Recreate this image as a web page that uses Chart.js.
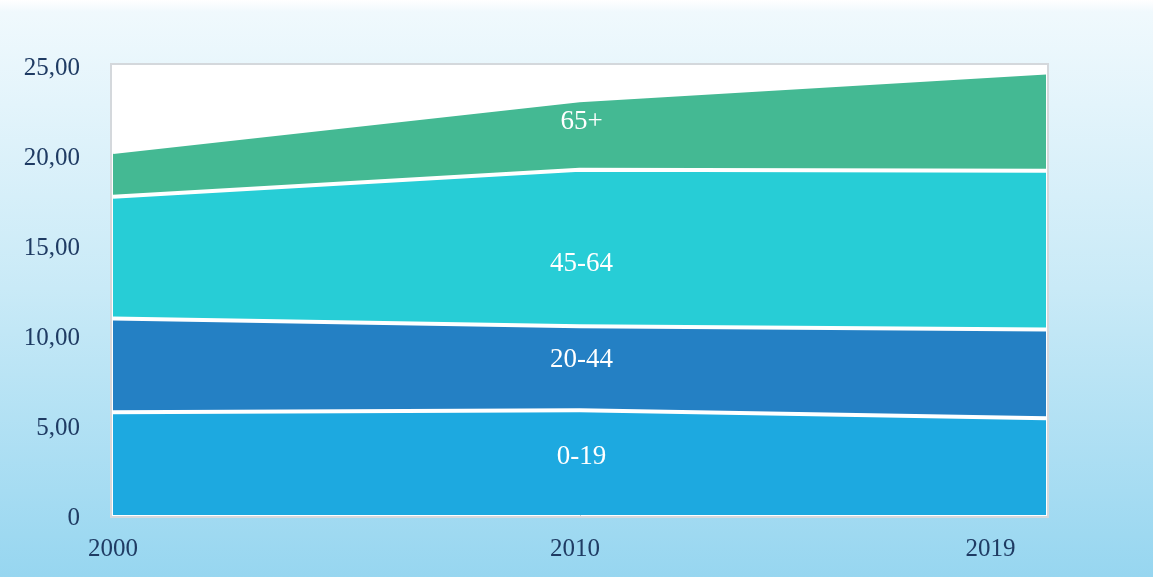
<!DOCTYPE html>
<html>
<head>
<meta charset="utf-8">
<script src="https://cdn.jsdelivr.net/npm/chart.js@4/dist/chart.umd.min.js"></script>
<style>
  html, body { margin: 0; padding: 0; }
  body { width: 1153px; height: 577px; overflow: hidden;
         background: linear-gradient(to bottom, #ffffff 0px, #f0f9fd 12px, #c9eaf7 50%, #97d6f0 100%); }
  #wrap { position: relative; width: 1153px; height: 577px; }
</style>
</head>
<body>
<div id="wrap"><canvas id="c" width="1153" height="577"></canvas></div>
<script>
const categories = ['2000', '2010', '2019'];
const xTickYears = [2000, 2010, 2019];
const seriesNames = ['0-19', '20-44', '45-64', '65+'];
const age0_19  = [5.71, 5.82, 5.38];
const age20_44 = [5.21, 4.66, 4.93];
const age45_64 = [6.76, 8.70, 8.81];
const age65    = [2.49, 3.86, 5.47];
const yTicks = [0, 5, 10, 15, 20, 25];

const colors = ['#1da9e0', '#2480c4', '#27cdd6', '#44b993'];
const seriesValues = [age0_19, age20_44, age45_64, age65];

const plotFrame = {
  id: 'plotFrame',
  beforeDraw(chart) {
    const { ctx, chartArea: a } = chart;
    ctx.save();
    ctx.fillStyle = '#ffffff';
    ctx.fillRect(a.left - 2, a.top - 1, a.right - a.left + 4, a.bottom - a.top + 3);
    ctx.strokeStyle = '#d4d8dc';
    ctx.lineWidth = 2;
    ctx.strokeRect(a.left - 2, a.top - 1, a.right - a.left + 4, a.bottom - a.top + 3);
    const x = chart.scales.x.getPixelForValue(1);
    ctx.strokeStyle = '#c8ccd0';
    ctx.lineWidth = 1;
    ctx.beginPath();
    ctx.moveTo(Math.round(x) + 0.5, a.bottom - 6);
    ctx.lineTo(Math.round(x) + 0.5, a.bottom + 1);
    ctx.stroke();
    ctx.restore();
  }
};

const areaLabels = {
  id: 'areaLabels',
  afterDatasetsDraw(chart, args, opts) {
    const { ctx } = chart;
    const idx = 1;
    ctx.save();
    ctx.fillStyle = '#ffffff';
    ctx.font = '27px "Liberation Serif", serif';
    ctx.textAlign = 'center';
    ctx.textBaseline = 'middle';
    let prevY = chart.scales.y.getPixelForValue(0);
    chart.data.datasets.forEach((ds, i) => {
      const pt = chart.getDatasetMeta(i).data[idx];
      const mid = (pt.y + prevY) / 2 + (opts.offsets[i] || 0);
      ctx.fillText(ds.label, pt.x + 2, mid);
      prevY = pt.y;
    });
    ctx.restore();
  }
};

new Chart(document.getElementById('c'), {
  type: 'line',
  data: {
    labels: categories,
    datasets: seriesValues.map((vals, i) => ({
      label: seriesNames[i],
      data: vals,
      backgroundColor: colors[i],
      borderColor: '#ffffff',
      borderWidth: 4,
      pointRadius: 0,
      tension: 0,
      fill: i === 0 ? 'origin' : '-1'
    }))
  },
  options: {
    responsive: false,
    animation: false,
    layout: { padding: { top: 65, right: 107, left: 0, bottom: 0 } },
    plugins: {
      legend: { display: false },
      tooltip: { enabled: false },
      title: { display: false },
      areaLabels: { offsets: [-6, -8, 16, -13] }
    },
    scales: {
      x: { type: 'category', display: false, offset: false },
      xt: {
        type: 'linear', position: 'bottom', min: 2000, max: 2020.2,
        afterBuildTicks: s => { s.ticks = xTickYears.map(v => ({ value: v })); },
        afterFit: s => { s.height = 62; },
        grid: { display: false, drawTicks: false },
        border: { display: false },
        ticks: {
          padding: 19, maxRotation: 0, autoSkip: false,
          color: '#1f3b63',
          font: { family: '"Liberation Serif", serif', size: 25 },
          callback: v => String(v)
        }
      },
      y: {
        stacked: true, min: 0, max: 25,
        afterBuildTicks: s => { s.ticks = yTicks.map(v => ({ value: v })); },
        afterFit: s => { s.width = 113; },
        grid: { display: false, drawTicks: false },
        border: { display: false },
        ticks: {
          padding: 33, labelOffset: 3,
          color: '#1f3b63',
          font: { family: '"Liberation Serif", serif', size: 25 },
          callback: v => v === 0 ? '0' : v.toFixed(2).replace('.', ',')
        }
      }
    }
  },
  plugins: [plotFrame, areaLabels]
});
</script>
</body>
</html>
